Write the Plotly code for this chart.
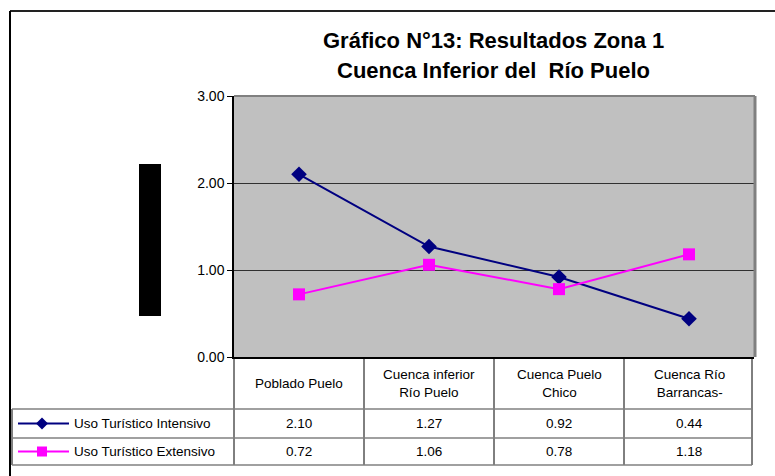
import plotly.graph_objects as go

W, H = 775, 476

categorias = ['Poblado Puelo', 'Cuenca inferior<br>Río Puelo', 'Cuenca Puelo<br>Chico', 'Cuenca Río<br>Barrancas-']
intensivo = [2.10, 1.27, 0.92, 0.44]
extensivo = [0.72, 1.06, 0.78, 1.18]
series = ['Uso Turístico Intensivo', 'Uso Turístico Extensivo']
colores = ['#000080', '#FF00FF']
simbolos = ['diamond', 'square']
titulo = ['Gráfico N°13: Resultados Zona 1', 'Cuenca Inferior del  Río Puelo']


def px(x):
    return x / W


def py(y):
    return 1 - y / H


# area del grafico (pixeles)
x0, x1, y0, y1 = 234, 754, 96, 357
col_w = (x1 - x0) / len(categorias)

fig = go.Figure()
for nombre, vals, c, s in zip(series, [intensivo, extensivo], colores, simbolos):
    fig.add_trace(go.Scatter(x=list(range(len(categorias))), y=vals, name=nombre,
                             mode='lines+markers', line=dict(color=c, width=2),
                             marker=dict(symbol=s, size=12, color=c)))

shapes = []
# borde exterior
shapes.append(dict(type='line', xref='paper', yref='paper', x0=px(10), x1=px(775), y0=py(11), y1=py(11),
                   line=dict(color='#222', width=2)))
shapes.append(dict(type='line', xref='paper', yref='paper', x0=px(10), x1=px(10), y0=py(11), y1=py(476),
                   line=dict(color='#000', width=2)))
# borde gris superior / derecho del area
shapes.append(dict(type='line', xref='paper', yref='paper', x0=px(x0), x1=px(x1 + 1), y0=py(y0), y1=py(y0),
                   line=dict(color='#808080', width=2)))
shapes.append(dict(type='line', xref='paper', yref='paper', x0=px(x1 + 1), x1=px(x1 + 1), y0=py(y0), y1=py(y1),
                   line=dict(color='#808080', width=3)))
# rectangulo negro (titulo eje y)
shapes.append(dict(type='rect', xref='paper', yref='paper', x0=px(139), x1=px(161), y0=py(164), y1=py(316),
                   fillcolor='black', line=dict(width=0)))

# tabla de datos
t_right = 752
rows_y = [357, 409, 438, 465]
for i in range(len(categorias) + 1):
    xv = x0 + i * col_w if i < len(categorias) else t_right
    shapes.append(dict(type='line', xref='paper', yref='paper', x0=px(xv), x1=px(xv), y0=py(357), y1=py(465),
                       line=dict(color='black', width=1)))
shapes.append(dict(type='line', xref='paper', yref='paper', x0=px(12), x1=px(12), y0=py(409), y1=py(465),
                   line=dict(color='black', width=1)))
for yv in rows_y[1:]:
    shapes.append(dict(type='line', xref='paper', yref='paper', x0=px(12), x1=px(t_right), y0=py(yv), y1=py(yv),
                       line=dict(color='#808080', width=1.5)))

annotations = []
fnt = dict(family='Liberation Sans, Arial', size=13.5, color='black')
for i, cat in enumerate(categorias):
    cx = x0 + (i + 0.5) * col_w
    annotations.append(dict(x=px(cx), y=py(383), xref='paper', yref='paper', text=cat, showarrow=False,
                            font=fnt, xanchor='center', yanchor='middle'))
    for r, vals in enumerate([intensivo, extensivo]):
        annotations.append(dict(x=px(cx), y=py((rows_y[r + 1] + rows_y[r + 2]) / 2), xref='paper', yref='paper',
                                text=f'{vals[i]:.2f}', showarrow=False, font=fnt,
                                xanchor='center', yanchor='middle'))

# leyenda dentro de la tabla
for r, (nombre, c, s) in enumerate(zip(series, colores, simbolos)):
    ym = (rows_y[r + 1] + rows_y[r + 2]) / 2
    shapes.append(dict(type='line', xref='paper', yref='paper', x0=px(18), x1=px(69), y0=py(ym), y1=py(ym),
                       line=dict(color=c, width=2)))
    if s == 'diamond':
        path = f'M {px(42)},{py(ym - 6)} L {px(48)},{py(ym)} L {px(42)},{py(ym + 6)} L {px(36)},{py(ym)} Z'
        shapes.append(dict(type='path', xref='paper', yref='paper', path=path, fillcolor=c, line=dict(width=0)))
    else:
        shapes.append(dict(type='rect', xref='paper', yref='paper', x0=px(37), x1=px(47), y0=py(ym - 5),
                           y1=py(ym + 5), fillcolor=c, line=dict(width=0)))
    annotations.append(dict(x=px(72), y=py(ym), xref='paper', yref='paper', text=nombre, showarrow=False,
                            font=fnt, xanchor='left', yanchor='middle'))

# titulo en dos lineas
for linea, yt in zip(titulo, [40, 70]):
    annotations.append(dict(x=px(493), y=py(yt), xref='paper', yref='paper', text=linea, showarrow=False,
                            xanchor='center', yanchor='middle',
                            font=dict(family='Liberation Sans, Arial', size=22, color='black', weight='bold')))

fig.update_layout(
    width=W, height=H,
    margin=dict(l=0, r=0, t=0, b=0, autoexpand=False),
    paper_bgcolor='white',
    plot_bgcolor='#C0C0C0',
    showlegend=False,
    hovermode=False,
    xaxis=dict(domain=[px(x0), px(x1)], range=[-0.5, len(categorias) - 0.5], showticklabels=False,
               showgrid=False, zeroline=False, showline=True, linecolor='black', linewidth=1.5,
               fixedrange=True, automargin=False),
    yaxis=dict(domain=[py(y1), py(y0)], range=[0, 3], dtick=1, tickformat='.2f',
               showgrid=True, gridcolor='#303030', gridwidth=1, zeroline=False,
               showline=True, linecolor='black', linewidth=1.5, ticks='outside', ticklen=5,
               tickcolor='black', tickfont=dict(family='Liberation Sans, Arial', size=14, color='black'),
               fixedrange=True, automargin=False),
    shapes=shapes,
    annotations=annotations,
)

fig.write_html('out.html', post_script="document.body.style.margin='0';", config={'displayModeBar': False})
